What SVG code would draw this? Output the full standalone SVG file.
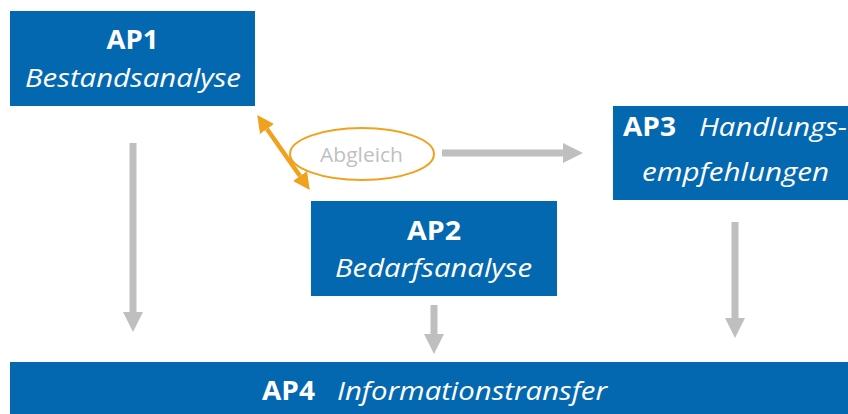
<svg xmlns="http://www.w3.org/2000/svg" width="848" height="414" viewBox="0 0 848 414">
<style>
.box{fill:#0468B1}
.t{font-family:"Open Sans","Noto Sans",sans-serif;fill:#fff;font-size:26px}
.b{font-weight:bold}
.i{font-style:italic}
.g{stroke:#BFBFBF;stroke-width:7;fill:none}
.o{stroke:#F0A21E;stroke-width:4.5;fill:none}
</style>
<defs>
<marker id="gh" markerUnits="userSpaceOnUse" markerWidth="20" markerHeight="20" viewBox="0 0 20 20" refX="0" refY="10" orient="auto">
<path d="M0,0 L20,10 L0,20 z" fill="#BFBFBF"/>
</marker>
<marker id="oh" markerUnits="userSpaceOnUse" markerWidth="17" markerHeight="17" viewBox="0 0 17 17" refX="0" refY="8.5" orient="auto-start-reverse">
<path d="M0,0 L17,8.5 L0,17 z" fill="#F0A21E"/>
</marker>
</defs>
<g id="ap1">
<rect class="box" x="10" y="11" width="245" height="95"/>
<text class="t b" x="132.5" y="49" text-anchor="middle" textLength="52" lengthAdjust="spacingAndGlyphs">AP1</text>
<text class="t i" x="133" y="87" text-anchor="middle" textLength="216" lengthAdjust="spacingAndGlyphs">Bestandsanalyse</text>
</g>
<g id="ap2">
<rect class="box" x="311" y="201" width="246" height="95"/>
<text class="t b" x="434" y="240" text-anchor="middle" textLength="54" lengthAdjust="spacingAndGlyphs">AP2</text>
<text class="t i" x="433.5" y="277" text-anchor="middle" textLength="197" lengthAdjust="spacingAndGlyphs">Bedarfsanalyse</text>
</g>
<g id="ap3">
<rect class="box" x="613" y="106" width="240" height="94"/>
<text class="t b" x="623" y="136" textLength="53" lengthAdjust="spacingAndGlyphs">AP3</text>
<text class="t i" x="699" y="136" textLength="148" lengthAdjust="spacingAndGlyphs">Handlungs-</text>
<text class="t i" x="642" y="181" textLength="187" lengthAdjust="spacingAndGlyphs">empfehlungen</text>
</g>
<g id="ap4">
<rect class="box" x="10" y="362" width="843" height="60"/>
<text class="t b" x="262" y="400" textLength="53" lengthAdjust="spacingAndGlyphs">AP4</text>
<text class="t i" x="337" y="400" textLength="270" lengthAdjust="spacingAndGlyphs">Informationstransfer</text>
</g>
<g id="abgleich">
<ellipse cx="362" cy="154" rx="72" ry="26" fill="none" stroke="#F0A21E" stroke-width="2"/>
<text x="361.5" y="162" text-anchor="middle" font-family="'Open Sans','Noto Sans',sans-serif" font-size="20" fill="#BFBFBF" textLength="83" lengthAdjust="spacingAndGlyphs">Abgleich</text>
</g>
<g id="connectors">
<line class="g" x1="133" y1="143" x2="133" y2="312" marker-end="url(#gh)"/>
<line class="g" x1="434" y1="305" x2="434" y2="334" marker-end="url(#gh)"/>
<line class="g" x1="735" y1="222" x2="735" y2="318" marker-end="url(#gh)"/>
<line class="g" x1="442" y1="153" x2="563" y2="153" marker-end="url(#gh)"/>
<line class="o" x1="267" y1="129" x2="300" y2="176" marker-start="url(#oh)" marker-end="url(#oh)"/>
</g>
</svg>
